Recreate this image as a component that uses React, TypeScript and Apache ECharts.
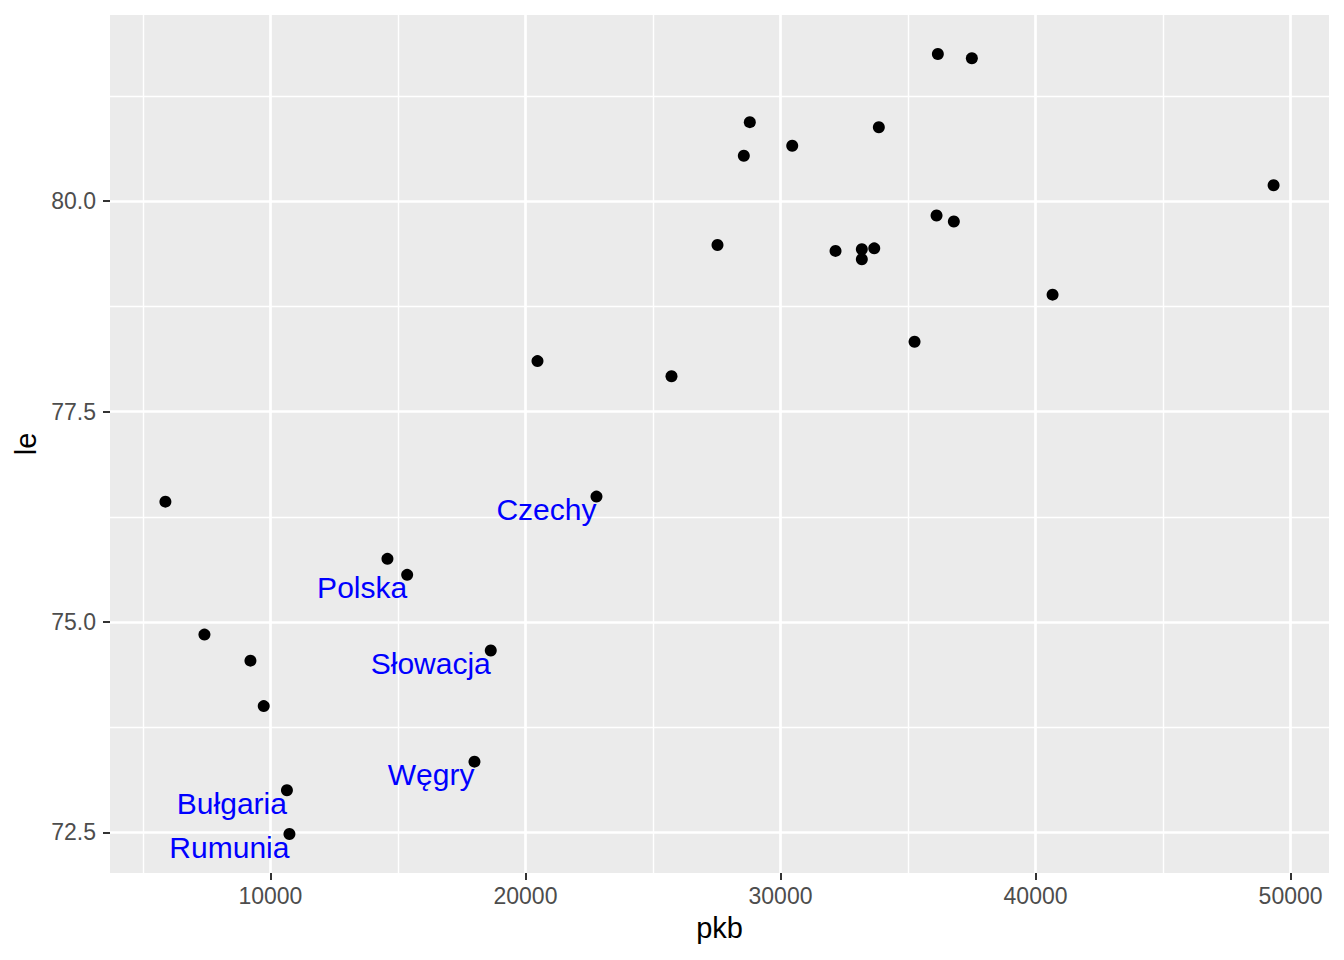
import * as React from "react";
import * as echarts from "echarts";
import { useEffect, useRef } from "react";

// pkb per capita vs life expectancy (le)
const pkb = [
  36169, 37502, 28796, 28561, 30459, 33855, 36118, 36796, 27529, 32157, 33188,
  33675, 33188, 49333, 40667, 35255, 20471, 25725, 22784, 5882, 14588, 15361,
  7412, 9216, 18639, 9737, 18000, 10647, 10745,
];
const le = [
  81.75, 81.7, 80.94, 80.54, 80.66, 80.88, 79.83, 79.76, 79.48, 79.41, 79.43,
  79.44, 79.31, 80.19, 78.89, 78.33, 78.1, 77.92, 76.49, 76.43, 75.75, 75.56,
  74.85, 74.54, 74.66, 74.0, 73.34, 73.0, 72.48,
];
const kraj = [
  "", "", "", "", "", "", "", "", "", "", "", "", "", "", "", "", "", "",
  "Czechy", "", "", "Polska", "", "", "Słowacja", "", "Węgry", "Bułgaria", "Rumunia",
];

const xMajor = [10000, 20000, 30000, 40000, 50000];
const xMinor = [5000, 15000, 25000, 35000, 45000];
const yMajor = [72.5, 75, 77.5, 80];
const yMinor = [73.75, 76.25, 78.75, 81.25];

const FONT = "Liberation Sans, Arial, Helvetica, sans-serif";

const expand = (arr: number[]) => {
  const lo = Math.min(...arr);
  const hi = Math.max(...arr);
  const pad = (hi - lo) * 0.05;
  return [lo - pad, hi + pad];
};

const App = () => {
  const chartRef = useRef<HTMLDivElement>(null);

  useEffect(() => {
    document.body.style.margin = "0";
    if (!chartRef.current) return;
    const myChart = echarts.init(chartRef.current, null, { renderer: "svg" });

    const [xMin, xMax] = expand(pkb);
    const [yMin, yMax] = expand(le);

    const majorLine = { show: true, lineStyle: { color: "#ffffff", width: 2.7 } };
    const minorLine = { show: true, lineStyle: { color: "#ffffff", width: 1.4 } };
    const tick = { show: true, length: 7, lineStyle: { color: "#333333", width: 2 } };
    const tickLabel = { color: "#4d4d4d", fontSize: 23, fontFamily: FONT };

    const option = {
      animation: false,
      grid: {
        left: 110,
        right: 15,
        top: 15,
        bottom: 87,
        show: true,
        backgroundColor: "#EBEBEB",
        borderWidth: 0,
      },
      xAxis: [
        {
          type: "value",
          min: xMin,
          max: xMax,
          axisLine: { show: false },
          axisTick: { ...tick, customValues: xMajor },
          axisLabel: {
            ...tickLabel,
            margin: 11,
            customValues: xMajor,
            formatter: (v: number) => String(v),
          },
          splitLine: majorLine,
          name: "pkb",
          nameLocation: "middle",
          nameGap: 40,
          nameTextStyle: { color: "#000000", fontSize: 29, fontFamily: FONT },
        },
        {
          type: "value",
          min: xMin,
          max: xMax,
          position: "bottom",
          axisLine: { show: false },
          axisTick: { show: false, customValues: xMinor },
          axisLabel: { show: false },
          splitLine: minorLine,
        },
      ],
      yAxis: [
        {
          type: "value",
          min: yMin,
          max: yMax,
          axisLine: { show: false },
          axisTick: { ...tick, customValues: yMajor },
          axisLabel: {
            ...tickLabel,
            margin: 14,
            customValues: yMajor,
            formatter: (v: number) => v.toFixed(1),
          },
          splitLine: majorLine,
          name: "le",
          nameLocation: "middle",
          nameGap: 70,
          nameTextStyle: { color: "#000000", fontSize: 29, fontFamily: FONT },
        },
        {
          type: "value",
          min: yMin,
          max: yMax,
          position: "left",
          axisLine: { show: false },
          axisTick: { show: false, customValues: yMinor },
          axisLabel: { show: false },
          splitLine: minorLine,
        },
      ],
      series: [
        {
          type: "scatter",
          xAxisIndex: 0,
          yAxisIndex: 0,
          symbol: "circle",
          symbolSize: 12,
          itemStyle: { color: "#000000", opacity: 1 },
          data: pkb.map((x, i) => ({ value: [x, le[i]], name: kraj[i] })),
          label: {
            show: true,
            position: ["50%", "50%"],
            align: "right",
            verticalAlign: "top",
            formatter: (p: any) => p.name,
            color: "#0000FF",
            fontSize: 30,
            lineHeight: 26,
            fontFamily: FONT,
          },
          labelLayout: { hideOverlap: false },
          emphasis: { disabled: true },
        },
      ],
    };

    myChart.setOption(option as any);

    return () => {
      myChart.dispose();
    };
  }, []);

  return <div ref={chartRef} style={{ width: 1344, height: 960 }} />;
};

export default App;
